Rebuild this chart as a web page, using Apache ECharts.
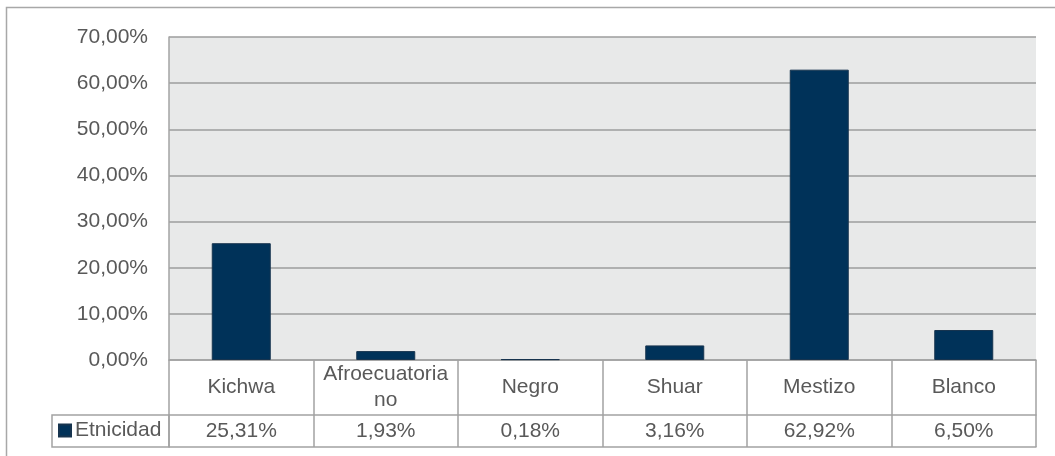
<!DOCTYPE html>
<html>
<head>
<meta charset="utf-8">
<script src="https://cdn.jsdelivr.net/npm/echarts@6/dist/echarts.min.js"></script>
<style>
	html, body { margin: 0; padding: 0; background: #fff; }
	#chart { width: 1055px; height: 456px; }
</style>
</head>
<body>
<div id="chart"></div>
<script>
	const categorias = ['Kichwa', 'Afroecuatoria\nno', 'Negro', 'Shuar', 'Mestizo', 'Blanco'];
	const valores = [25.31, 1.93, 0.18, 3.16, 62.92, 6.50];
	const serieNombre = 'Etnicidad';

	const pct = function (v) {
		return v.toFixed(2).replace('.', ',') + '%';
	};
	const etiquetasTabla = valores.map(pct); // fila de valores de la tabla

	const gris = '#a3a3a3';
	const texto = '#595959';
	const fuente = "'Liberation Sans', Arial, sans-serif";

	const chart = echarts.init(document.getElementById('chart'));
	const option = {
		animation: false,
		textStyle: { fontFamily: fuente },
		grid: {
			left: 169,
			right: 19,
			top: 37,
			bottom: 96,
			show: true,
			backgroundColor: '#e8e9e9',
			borderWidth: 0
		},
		legend: {
			data: [serieNombre],
			left: 58,
			top: 420,
			padding: 0,
			icon: 'rect',
			itemWidth: 12,
			itemHeight: 12,
			itemGap: 4,
			selectedMode: false,
			textStyle: { fontSize: 21, color: texto, fontFamily: fuente, padding: [0, 0, 0, -1] }
		},
		xAxis: [{
				type: 'category',
				data: categorias,
				position: 'bottom',
				axisLine: { show: true, lineStyle: { color: gris, width: 1.5 } },
				axisTick: { show: true, length: 87, interval: 0, lineStyle: { color: gris, width: 1.5 } },
				axisLabel: {
					interval: 0,
					margin: 27,
					verticalAlign: 'middle',
					fontSize: 21,
					lineHeight: 26,
					color: texto,
					fontFamily: fuente
				}
			}, {
				// fila de valores
				type: 'category',
				data: etiquetasTabla,
				position: 'bottom',
				offset: 55,
				axisLine: { show: true, lineStyle: { color: gris, width: 1.5 } },
				axisTick: { show: false },
				axisLabel: {
					interval: 0,
					margin: 16,
					verticalAlign: 'middle',
					fontSize: 21,
					color: texto,
					fontFamily: fuente
				}
			}, {
				// borde inferior de la tabla
				type: 'category',
				data: categorias,
				position: 'bottom',
				offset: 87,
				axisLine: { show: true, lineStyle: { color: gris, width: 1.5 } },
				axisTick: { show: false },
				axisLabel: { show: false }
			}
		],
		yAxis: {
			type: 'value',
			min: 0,
			max: 70,
			interval: 10,
			axisLine: { show: true, lineStyle: { color: gris, width: 1.5 } },
			axisTick: { show: false },
			axisLabel: {
				margin: 21,
				fontSize: 21,
				color: texto,
				fontFamily: fuente,
				formatter: pct
			},
			splitLine: { show: true, lineStyle: { color: '#9c9c9c', width: 1.5 } }
		},
		graphic: [{
				type: 'rect',
				shape: { x: 6.5, y: 7.5, width: 1060, height: 460 },
				style: { fill: 'none', stroke: '#a8a8a8', lineWidth: 1.5 },
				silent: true,
				z: -1
			}, {
				type: 'rect',
				shape: { x: 52, y: 415, width: 117, height: 32 },
				style: { fill: 'none', stroke: gris, lineWidth: 1.5 },
				silent: true
			}
		],
		series: [{
				name: serieNombre,
				type: 'bar',
				data: valores,
				barWidth: 59,
				itemStyle: {
					color: '#003259',
					borderColor: '#17344f',
					borderWidth: 1
				}
			}
		]
	};
	chart.setOption(option);
</script>
</body>
</html>
